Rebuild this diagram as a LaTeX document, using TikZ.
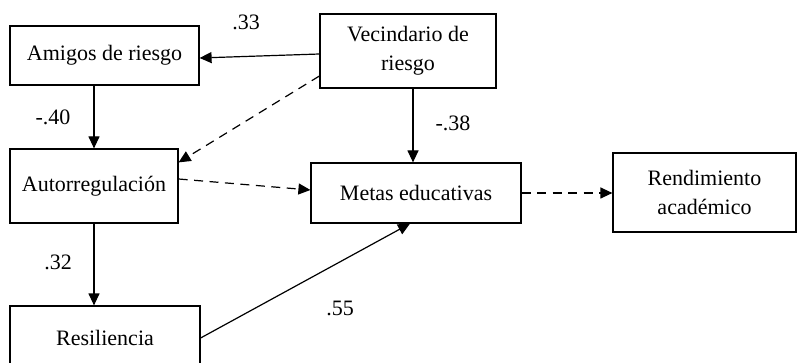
\documentclass[tikz,border=0pt]{standalone}
\usepackage{fontspec}
\setmainfont{Liberation Serif}
\usetikzlibrary{arrows.meta}
\begin{document}
\begin{tikzpicture}[x=1pt,y=-1pt,
  box/.style={draw=black,line width=1.2pt,inner sep=0pt,align=center,
    font=\fontsize{22}{29}\selectfont},
  lbl/.style={inner sep=0pt,font=\fontsize{22}{26}\selectfont},
  conn/.style={line width=1.2pt,-{Triangle[length=12pt,width=11pt]}},
  dashconn/.style={conn,dash pattern=on 9pt off 6.5pt}]
\useasboundingbox (0,0) rectangle (797,363);
\node[box,minimum width=189pt,minimum height=59pt] (ami) at (104.5,55.5) {Amigos de riesgo};
\node[box,minimum width=176pt,minimum height=74pt] (vec) at (408,51) {Vecindario de\\riesgo};
\node[box,minimum width=168pt,minimum height=74pt] (aut) at (94,186) {Autorregulación};
\node[box,minimum width=210pt,minimum height=60pt] (met) at (416,193) {Metas educativas};
\node[box,minimum width=183pt,minimum height=79pt] (ren) at (704.5,192.5) {Rendimiento\\académico};
\node[box,minimum width=190pt,minimum height=64pt] (res) at (105,338) {Resiliencia};

\draw[conn] ([yshift=-3pt]vec.west) -- ([yshift=-2.5pt]ami.east);
\draw[conn] (ami.south -| aut.north) -- (aut.north);
\draw[dashconn] ([yshift=-25pt]vec.west) -- ([yshift=-14pt]aut.north east);
\draw[conn] ([xshift=5pt]vec.south) -- ([xshift=5pt]vec.south |- met.north);
\draw[dashconn] ([yshift=7pt]aut.east) -- ([yshift=3pt]met.west);
\draw[conn] (aut.south) -- (aut.south |- res.north);
\draw[conn] (res.east) -- ([xshift=-6pt]met.south);
\draw[dashconn] (met.east) -- (ren.west |- met.east);

\node[lbl] (l33) at (246,22) {.33};
\node[lbl] (l40) at (53,117) {-.40};
\node[lbl] (l38) at (453,123) {-.38};
\node[lbl] (l32) at (58,262) {.32};
\node[lbl] (l55) at (340,308) {.55};
\end{tikzpicture}
\end{document}
